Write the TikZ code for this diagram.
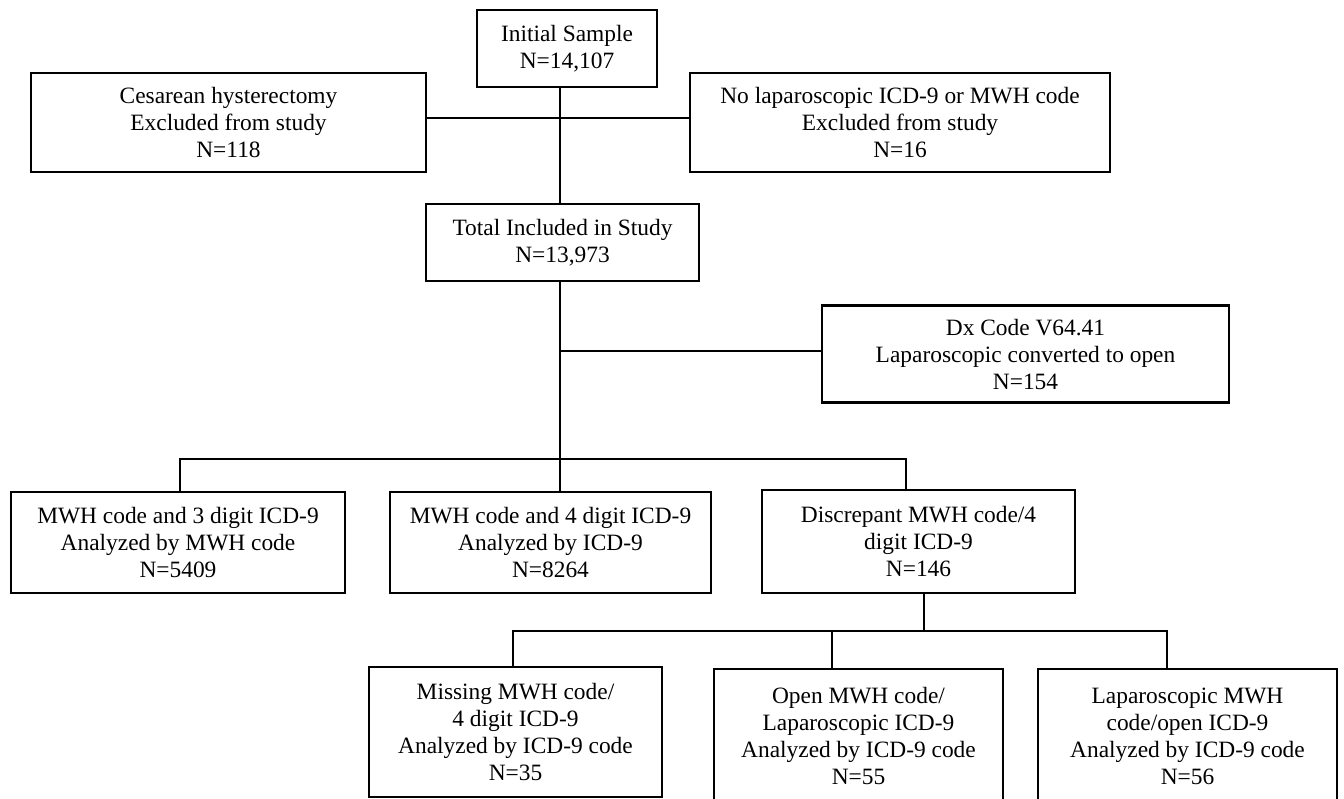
\documentclass[tikz,border=0pt]{standalone}
\usepackage{fontspec}
\setmainfont{Liberation Serif}
\begin{document}
\begin{tikzpicture}[x=1pt,y=-1pt,
  box/.style={draw, line width=2.2pt, rectangle, inner sep=0pt, align=center,
    font=\fontsize{23.4}{27}\selectfont},
  conn/.style={line width=2.2pt}]
\useasboundingbox (0,0) rectangle (1344,798);
\clip (0,0) rectangle (1344,798);
\fill[white] (0,0) rectangle (1344,798);
% boxes
\node[box, minimum width=180pt, minimum height=77pt] (init) at (567,48.5) {Initial Sample\\N=14,107};
\node[box, minimum width=395pt, minimum height=99pt] (ces) at (228.5,122.5) {Cesarean hysterectomy\\Excluded from study\\N=118};
\node[box, minimum width=420pt, minimum height=99pt] (nolap) at (900,122.5) {No laparoscopic ICD-9 or MWH code\\Excluded from study\\N=16};
\node[box, minimum width=273pt, minimum height=77pt] (total) at (562.5,242.5) {Total Included in Study\\N=13,973};
\node[box, minimum width=407pt, minimum height=97pt] (dx) at (1025.5,354) {Dx Code V64.41\\Laparoscopic converted to open\\N=154};
\node[box, minimum width=334pt, minimum height=101pt] (mwh3) at (178,542.5) {MWH code and 3 digit ICD-9\\Analyzed by MWH code\\N=5409};
\node[box, minimum width=321pt, minimum height=101pt] (mwh4) at (550.5,542.5) {MWH code and 4 digit ICD-9\\Analyzed by ICD-9\\N=8264};
\node[box, minimum width=313pt, minimum height=103pt] (disc) at (918.5,541.5) {Discrepant MWH code/4\\digit ICD-9\\N=146};
\node[box, minimum width=293pt, minimum height=130pt] (miss) at (515.5,732) {Missing MWH code/\\4 digit ICD-9\\Analyzed by ICD-9 code\\N=35};
\node[box, minimum width=289pt, minimum height=134pt] (open) at (858.5,736) {Open MWH code/\\Laparoscopic ICD-9\\Analyzed by ICD-9 code\\N=55};
\node[box, minimum width=299pt, minimum height=134pt] (lap) at (1187.5,736) {Laparoscopic MWH\\code/open ICD-9\\Analyzed by ICD-9 code\\N=56};
% connectors
\coordinate (t0) at (560,118);
\coordinate (t1) at (560,351);
\coordinate (j1) at (560,459);
\coordinate (j1l) at (180,459);
\coordinate (j1r) at (906,459);
\coordinate (j2) at (924,631);
\coordinate (j2l) at (513,631);
\coordinate (j2m) at (832,631);
\coordinate (j2r) at (1167,631);
\draw[conn] (init.south -| t0) -- (total.north -| t0);
\draw[conn] (ces.east |- t0) -- (nolap.west |- t0);
\draw[conn] (total.south -| t1) -- (j1);
\draw[conn] (t1) -- (dx.west |- t1);
\draw[conn] (mwh3.north -| j1l) -- (j1l) -- (j1r) -- (disc.north -| j1r);
\draw[conn] (j1) -- (mwh4.north -| j1);
\draw[conn] (disc.south -| j2) -- (j2);
\draw[conn] (miss.north -| j2l) -- (j2l) -- (j2r) -- (lap.north -| j2r);
\draw[conn] (j2m) -- (open.north -| j2m);
\end{tikzpicture}
\end{document}
